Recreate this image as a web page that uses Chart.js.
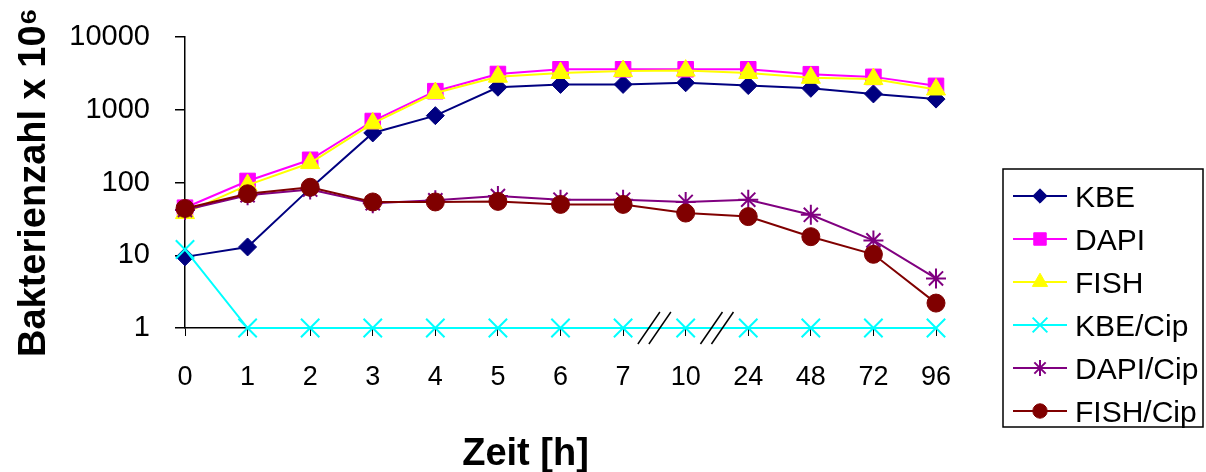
<!DOCTYPE html>
<html>
<head>
<meta charset="utf-8">
<script src="https://cdn.jsdelivr.net/npm/chart.js@4/dist/chart.umd.min.js"></script>
<style>
  html, body { margin: 0; padding: 0; background: #fff; }
</style>
</head>
<body>
<canvas id="chart" width="1206" height="472"></canvas>
<script>
// ================================
// DATA
// ================================
const hours = ["0", "1", "2", "3", "4", "5", "6", "7", "10", "24", "48", "72", "96"];
const yTicks = [1, 10, 100, 1000, 10000];
const breakAfter = [7, 8]; // axis breaks between 7|10 and 10|24

const kbe     = [9.5, 13, 83, 480, 830, 2040, 2230, 2230, 2350, 2150, 1970, 1650, 1400];
const dapi    = [45, 105, 205, 700, 1800, 3100, 3600, 3600, 3600, 3600, 3080, 2830, 2130];
const fish    = [38, 92, 185, 650, 1700, 2850, 3200, 3400, 3450, 3200, 2750, 2650, 1900];
const kbeCip  = [12, 1, 1, 1, 1, 1, 1, 1, 1, 1, 1, 1, 1];
const dapiCip = [42, 67, 80, 52, 57, 65, 58, 58, 54, 58, 36, 16, 4.8];
const fishCip = [44, 70, 86, 54, 54, 55, 50, 50, 38, 34, 18, 10.3, 2.2];

const FONT = "'Liberation Sans', Arial, sans-serif";

function series(label, data, color, style, radius, order, bw) {
  return {
    label, data, order,
    borderColor: color,
    backgroundColor: color,
    borderWidth: 2,
    pointStyle: style,
    pointRadius: radius,
    pointHoverRadius: radius,
    pointBackgroundColor: color,
    pointBorderColor: color,
    pointBorderWidth: bw,
    tension: 0,
    clip: false
  };
}

const datasets = [
  series("KBE", kbe, "#000080", "rectRot", 9, 6, 1),
  series("DAPI", dapi, "#ff00ff", "rect", 11, 5, 1),
  series("FISH", fish, "#ffff00", "triangle", 11, 4, 1),
  series("KBE/Cip", kbeCip, "#00ffff", "crossRot", 13, 3, 2),
  series("DAPI/Cip", dapiCip, "#800080", "star", 10, 2, 2),
  series("FISH/Cip", fishCip, "#800000", "circle", 9, 1, 1)
];

// ================================
// LEGEND, AXIS BREAKS, X TITLE
// ================================
const extras = {
  id: "extras",
  afterDatasetsDraw(chart) {
    const ctx = chart.ctx;
    const x = chart.scales.x;
    const area = chart.chartArea;

    ctx.save();
    ctx.strokeStyle = "#000";
    ctx.lineWidth = 1.5;
    breakAfter.forEach(i => {
      const mx = (x.getPixelForValue(i) + x.getPixelForValue(i + 1)) / 2;
      [-5.5, 5.5].forEach(dx => {
        ctx.beginPath();
        ctx.moveTo(mx + dx - 11, area.bottom + 16);
        ctx.lineTo(mx + dx + 11, area.bottom - 16);
        ctx.stroke();
      });
    });
    ctx.restore();
  },
  afterDraw(chart) {
    const ctx = chart.ctx;
    const area = chart.chartArea;

    // x axis title
    ctx.save();
    ctx.fillStyle = "#000";
    ctx.font = "bold 38px " + FONT;
    ctx.textAlign = "center";
    ctx.textBaseline = "alphabetic";
    ctx.fillText("Zeit [h]", (area.left + area.right) / 2 - 35, 465);

    // legend box
    ctx.strokeStyle = "#000";
    ctx.lineWidth = 1.5;
    ctx.strokeRect(1003, 169, 200, 258);

    ctx.font = "30px " + FONT;
    ctx.textAlign = "left";
    chart.data.datasets.forEach((ds, i) => {
      const y = 196 + i * 43;
      ctx.strokeStyle = ds.borderColor;
      ctx.lineWidth = 2;
      ctx.beginPath();
      ctx.moveTo(1013, y);
      ctx.lineTo(1067, y);
      ctx.stroke();

      ctx.fillStyle = ds.pointBackgroundColor;
      ctx.strokeStyle = ds.pointBorderColor;
      ctx.lineWidth = ds.pointBorderWidth;
      Chart.helpers.drawPoint(ctx, {
        pointStyle: ds.pointStyle,
        radius: ds.pointRadius * 0.8,
        rotation: 0,
        borderWidth: ds.pointBorderWidth
      }, 1040, y);

      ctx.fillStyle = "#000";
      ctx.fillText(ds.label, 1075, y + 11);
    });
    ctx.restore();
  }
};

// ================================
// CHART
// ================================
new Chart(document.getElementById("chart"), {
  type: "line",
  data: { labels: hours, datasets },
  plugins: [extras],
  options: {
    responsive: false,
    animation: false,
    layout: { padding: { top: 37, right: 270, bottom: 0, left: 0 } },
    plugins: {
      legend: { display: false },
      tooltip: { enabled: false }
    },
    scales: {
      x: {
        type: "category",
        offset: false,
        afterFit(s) { s.height = 144; s.paddingLeft = 0; s.paddingRight = 0; },
        grid: { drawOnChartArea: false, drawTicks: true, tickLength: 8, color: "#000", lineWidth: 1 },
        border: { display: true, color: "#000", width: 1.5 },
        ticks: {
          color: "#000",
          font: { family: FONT, size: 27 },
          padding: 25,
          maxRotation: 0,
          autoSkip: false
        }
      },
      y: {
        type: "logarithmic",
        min: 1,
        max: 10000,
        afterFit(s) { s.width = 185; s.paddingTop = 0; s.paddingBottom = 0; },
        afterBuildTicks(s) { s.ticks = yTicks.map(v => ({ value: v })); },
        grid: { drawOnChartArea: false, drawTicks: true, tickLength: 10, color: "#000", lineWidth: 1.5 },
        border: { display: true, color: "#000", width: 1.5 },
        ticks: {
          color: "#000",
          font: { family: FONT, size: 29 },
          padding: 25,
          callback: v => String(v)
        },
        title: {
          display: true,
          text: "Bakterienzahl x 10⁶",
          color: "#000",
          font: { family: FONT, size: 38, weight: "bold" },
          padding: { top: 12, bottom: 0 }
        }
      }
    }
  }
});
</script>
</body>
</html>
